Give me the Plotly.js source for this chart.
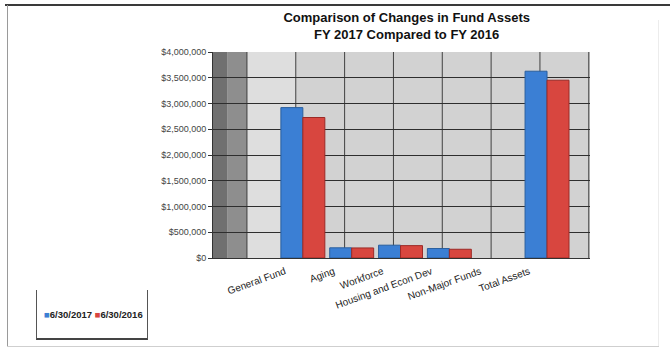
<!DOCTYPE html>
<html>
<head>
<meta charset="utf-8">
<script src="https://cdn.plot.ly/plotly-3.0.1.min.js"></script>
<style>
  html, body { margin: 0; padding: 0; background: #ffffff; }
  #wrap { position: relative; width: 670px; height: 349px; overflow: hidden; }
  #chart { position: absolute; left: 0; top: 0; width: 670px; height: 349px; }
  .frame { position: absolute; pointer-events: none; }
</style>
</head>
<body>
<div id="wrap">
  <div class="frame" style="left:5px; top:4px; width:665px; height:2px; background:#3a3a3a;"></div>
  <div class="frame" style="left:7px; top:5px; width:1px; height:342px; background:#9a9a9a;"></div>
  <div class="frame" style="left:658px; top:20px; width:1px; height:326px; background:#ececec;"></div>
  <div class="frame" style="left:7px; top:346px; width:652px; height:1px; background:#cfcfcf;"></div>
  <div class="frame" style="left:36px; top:290px; width:110px; height:48px; border-left:1px solid #555; border-right:1px solid #555; border-bottom:2px solid #444;"></div>
  <div id="chart"></div>
</div>
<script>
// Fund assets by fund, at fiscal year end (Non-Major Funds has no column)
const categories = ["General Fund", "Aging", "Workforce", "Housing and Econ Dev", "Non-Major Funds", "Total Assets"];
const fy2017 = [2920000, 198000, 249000, 184000, null, 3627000];
const fy2016 = [2728000, 195000, 240000, 170000, null, 3452000];
const seriesNames = ["6/30/2017", "6/30/2016"];
const yTicks = [0, 500000, 1000000, 1500000, 2000000, 2500000, 3000000, 3500000, 4000000];

const blue = "#3b7fd4";
const red = "#d8463f";

const traces = [
  { type: "bar", name: seriesNames[0], x: categories, y: fy2017,
    marker: { color: blue, line: { color: "#2a5f9e", width: 1 } }, showlegend: false },
  { type: "bar", name: seriesNames[1], x: categories, y: fy2016,
    marker: { color: red, line: { color: "#9c2a26", width: 1 } }, showlegend: false }
];

// back wall: dark left panel, lighter first column, vertical grid lines
const shapes = [
  { type: "rect", xref: "x", yref: "paper", x0: -1.84, x1: -1.55, y0: 0, y1: 1,
    fillcolor: "#707070", line: { width: 0 }, layer: "below" },
  { type: "rect", xref: "x", yref: "paper", x0: -1.55, x1: -1.14, y0: 0, y1: 1,
    fillcolor: "#8e8e8e", line: { width: 0 }, layer: "below" },
  { type: "rect", xref: "x", yref: "paper", x0: -1.14, x1: -0.15, y0: 0, y1: 1,
    fillcolor: "#dedede", line: { width: 0 }, layer: "below" }
];
for (let k = -1; k <= 6; k++) {
  shapes.push({ type: "line", xref: "x", yref: "paper", x0: k - 0.145, x1: k - 0.145, y0: 0, y1: 1,
    line: { color: "#404040", width: 1 }, layer: "below" });
}

const layout = {
  width: 670, height: 349,
  margin: { l: 213, r: 80, t: 52, b: 91 },
  paper_bgcolor: "rgba(0,0,0,0)",
  plot_bgcolor: "#d2d2d2",
  font: { family: "Liberation Sans, Arial, sans-serif", size: 9, color: "#333" },
  title: {
    text: "<b>Comparison of Changes in Fund Assets</b><br><b>FY 2017 Compared to FY 2016</b>",
    font: { family: "Liberation Sans, Arial, sans-serif", size: 13, color: "#111" },
    x: 0.607, xanchor: "center", y: 0.937, yanchor: "middle"
  },
  barmode: "group",
  bargap: 0.1,
  bargroupgap: 0,
  xaxis: {
    type: "category",
    range: [-1.84, 5.88],
    showgrid: false,
    tickangle: -20,
    ticklabelshift: -18,
    ticklabelstandoff: 3,
    tickfont: { size: 10, color: "#222" },
    showline: true, linecolor: "#333", linewidth: 1,
    ticks: "", zeroline: false
  },
  yaxis: {
    range: [0, 4000000],
    tickvals: yTicks,
    tickformat: "$,.0f",
    showgrid: true, gridcolor: "#2e2e2e", gridwidth: 1,
    showline: true, linecolor: "#333", linewidth: 1,
    ticks: "outside", ticklen: 4, tickcolor: "#333",
    tickfont: { size: 9, color: "#444" },
    zeroline: false
  },
  shapes: shapes,
  annotations: [{
    xref: "paper", yref: "paper",
    x: (93 - 213) / 377, y: (258 - 314) / 206, xanchor: "center", yanchor: "middle",
    showarrow: false,
    text: "<b><span style='color:" + blue + "'>■</span>" + seriesNames[0] +
          " <span style='color:" + red + "'>■</span>" + seriesNames[1] + "</b>",
    font: { family: "Liberation Sans, Arial, sans-serif", size: 9.5, color: "#222" }
  }]
};

Plotly.newPlot("chart", traces, layout, { displayModeBar: false, staticPlot: true });
</script>
</body>
</html>
